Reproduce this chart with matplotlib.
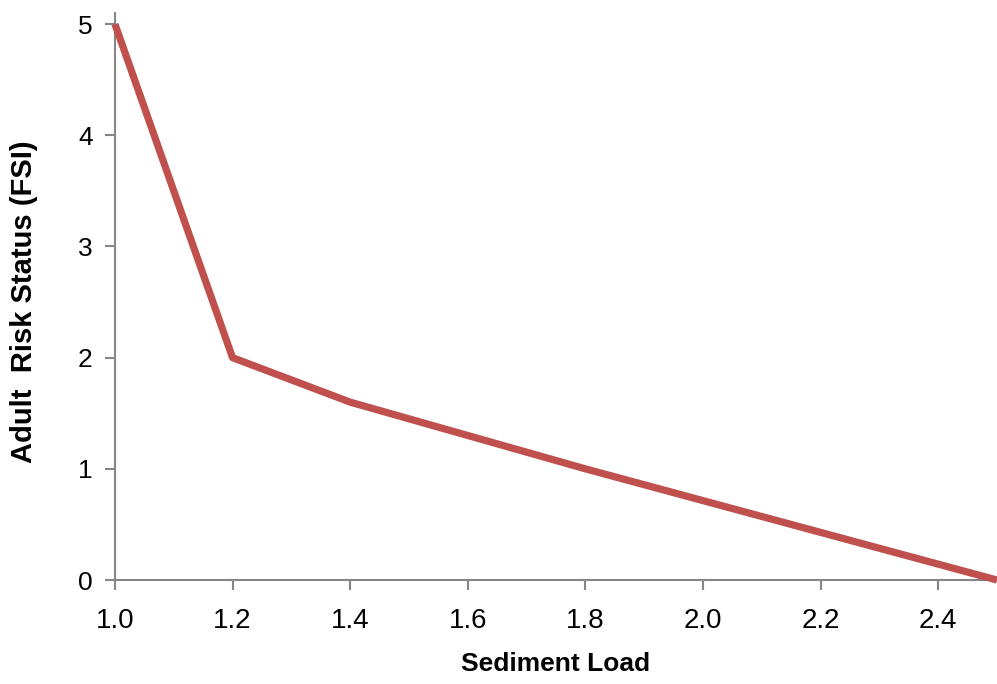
import matplotlib
matplotlib.use("Agg")
import matplotlib.pyplot as plt

sediment_load = [1.0, 1.2, 1.4, 1.8, 2.5]
risk_status = [5.0, 2.0, 1.6, 1.0, 0.0]
x_ticks = [1.0, 1.2, 1.4, 1.6, 1.8, 2.0, 2.2, 2.4]
y_ticks = [0, 1, 2, 3, 4, 5]

plt.rcParams['font.family'] = ['Liberation Sans', 'DejaVu Sans']

fig = plt.figure(figsize=(9.97, 6.84), dpi=100)
ax = fig.add_axes([0.1153, 0.152, 0.8847, 0.829])
ax.plot(sediment_load, risk_status, color='#C0504D', linewidth=5.2,
        solid_capstyle='butt', clip_on=False, zorder=3)
ax.set_xlim(1.0, 2.5)
ax.set_ylim(0, 5.1)
ax.set_xticks(x_ticks)
ax.set_xticklabels([f"{v:.1f}" for v in x_ticks])
ax.set_yticks(y_ticks)
for s in ['top', 'right']:
    ax.spines[s].set_visible(False)
for s in ['left', 'bottom']:
    ax.spines[s].set_color('#868686')
    ax.spines[s].set_linewidth(1.5)
ax.tick_params(axis='both', colors='#868686', length=7, width=1.5,
               labelcolor='black', direction='out')
ax.tick_params(axis='x', pad=13, labelsize=20)
ax.tick_params(axis='y', pad=9, labelsize=19)
ax.set_xlabel('Sediment Load', fontsize=19, fontweight='bold', labelpad=13)
ax.set_ylabel('Adult  Risk Status (FSI)', fontsize=21, fontweight='bold')
ax.yaxis.set_label_coords(-0.087, 0.49)
fig.savefig('out.png', dpi=100)
